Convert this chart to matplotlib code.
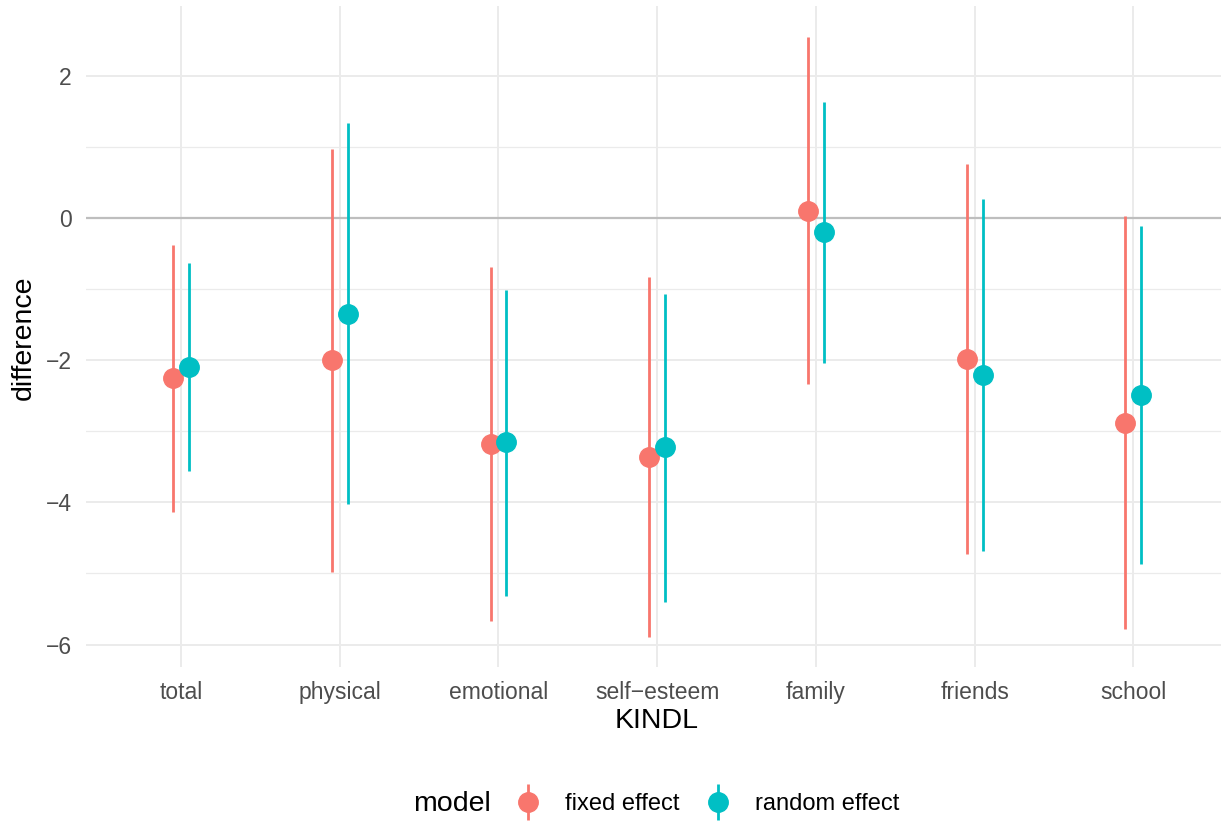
import numpy as np
import matplotlib.pyplot as plt
from matplotlib.ticker import MultipleLocator
from matplotlib.container import ErrorbarContainer
from matplotlib.legend_handler import HandlerErrorbar

plt.rcParams['font.family'] = ['Liberation Sans', 'DejaVu Sans']

categories = ['total', 'physical', 'emotional', 'self\u2212esteem', 'family', 'friends', 'school']

fixed_est = [-2.25, -2.00, -3.18, -3.36, 0.10, -1.98, -2.88]
fixed_low = [-4.13, -4.98, -5.67, -5.89, -2.34, -4.73, -5.78]
fixed_high = [-0.38, 0.97, -0.69, -0.83, 2.54, 0.76, 0.03]

random_est = [-2.10, -1.35, -3.15, -3.22, -0.20, -2.21, -2.49]
random_low = [-3.56, -4.02, -5.32, -5.40, -2.04, -4.68, -4.87]
random_high = [-0.63, 1.34, -1.01, -1.07, 1.63, 0.26, -0.12]

W, H = 1221, 823
fig = plt.figure(figsize=(W / 100, H / 100), dpi=100)
# panel runs a little past the right edge, as in the original
ax = fig.add_axes([85.8 / W, 1 - 667 / H, (1228.5 - 85.8) / W, (667 - 6) / H])

x = np.arange(len(categories))
dodge = 0.05

ax.axhline(0, color='#BEBEBE', lw=1.6, zorder=1)

series = [
    ('fixed effect', '#F8766D', -dodge, fixed_est, fixed_low, fixed_high),
    ('random effect', '#00BFC4', dodge, random_est, random_low, random_high),
]
for label, col, off, est, lo, hi in series:
    est = np.array(est)
    err = [est - np.array(lo), np.array(hi) - est]
    ax.errorbar(x + off, est, yerr=err, fmt='o', color=col, ecolor=col,
                elinewidth=2.0, markersize=14, capsize=0, label=label, zorder=3)

ax.set_xlim(-0.6, 6.6)
ax.set_ylim(-6.315, 2.98)
ax.set_xticks(x)
ax.set_xticklabels(categories)
ax.yaxis.set_minor_locator(MultipleLocator(1))
ax.set_yticks([-6, -4, -2, 0, 2])
ax.set_yticklabels(['\u22126', '\u22124', '\u22122', '0', '2'])

ax.grid(which='major', color='#EBEBEB', lw=1.4, zorder=0)
ax.grid(which='minor', axis='y', color='#EBEBEB', lw=0.9, zorder=0)
ax.set_axisbelow(True)
for s in ax.spines.values():
    s.set_visible(False)
ax.tick_params(which='both', length=0, labelsize=16.5, labelcolor='#4D4D4D')
ax.tick_params(axis='x', pad=10)
ax.tick_params(axis='y', pad=10)

fig.text(656.5 / W, 1 - 720.7 / H, 'KINDL', fontsize=20.5, ha='center', va='center')
fig.text(24 / W, 1 - 337.5 / H, 'difference', fontsize=20.5, ha='center', va='center',
         rotation=90)

fig.text(452 / W, 1 - 804 / H, 'model', fontsize=20.5, ha='center', va='center')
fig.legend(loc='center', bbox_to_anchor=(708 / W, 1 - 804 / H), ncol=2,
           frameon=False, fontsize=17, handlelength=1.0, handletextpad=1.05,
           columnspacing=1.15, borderpad=0.2,
           handler_map={ErrorbarContainer: HandlerErrorbar(yerr_size=0.77)})

fig.savefig('out.png', dpi=100)
